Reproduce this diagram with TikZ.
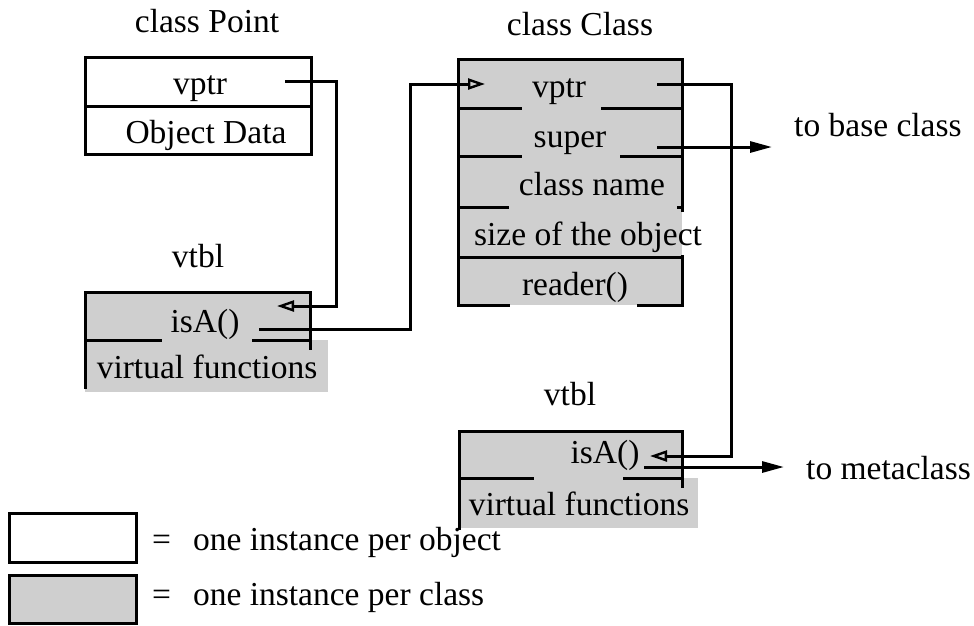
\documentclass[tikz,border=0pt]{standalone}
\usepackage{fontspec}
\setmainfont{Liberation Serif}
\usetikzlibrary{arrows.meta}
\begin{document}
\begin{tikzpicture}[x=1pt,y=-1pt,
  lbl/.style={font=\fontsize{33.5}{40}\selectfont, inner sep=0pt, anchor=base},
  lblw/.style={lbl, anchor=base west},
  frame/.style={line width=3pt, line cap=rect},
  shade/.style={fill=black!19},
  conn/.style={line width=3pt},
  inarrow/.style={conn,-{Triangle[open,length=17pt,width=11pt,line width=2.4pt]}},
  outarrow/.style={conn,-{Triangle[length=22pt,width=11pt]}}]
\useasboundingbox[fill=white] (0,0) rectangle (974,625);

% ---------- shaded areas ----------
\fill[shade] (458,59) rectangle (682,305);
\fill[shade] (85,292) rectangle (310,340);
\fill[shade] (85,340) rectangle (328,392);
\fill[shade] (459,431) rectangle (682,478);
\fill[shade] (459,478) rectangle (698,528);
\fill[shade] (9,575) rectangle (136,624);

% ---------- class Point ----------
\draw[frame] (85,57) rectangle (311,154);
\draw[frame] (85,106) -- (311,106);

% ---------- left vtbl ----------
\draw[frame] (85,387) -- (85,292) -- (310,292) -- (310,348);
\draw[frame] (85,340) -- (160,340);
\draw[frame] (253,340) -- (310,340);

% ---------- class Class ----------
\draw[frame] (508,305) -- (458,305) -- (458,59) -- (682,59) -- (682,210);
\draw[frame] (682,256) -- (682,305) -- (638,305);
\draw[frame] (458,108) -- (520,108);  \draw[frame] (602,108) -- (682,108);
\draw[frame] (458,156) -- (520,156);  \draw[frame] (621,156) -- (682,156);
\draw[frame] (458,207) -- (507,207);  \draw[frame] (678,207) -- (682,207);
\draw[frame] (458,257) -- (682,257);

% ---------- bottom vtbl ----------
\draw[frame] (459,528) -- (459,431) -- (682,431) -- (682,486);
\draw[frame] (459,478) -- (532,478);
\draw[frame] (624,478) -- (682,478);

% ---------- legend ----------
\draw[frame] (9,513) rectangle (136,562);
\draw[frame] (9,575) rectangle (136,623);

% ---------- texts ----------
\node[lbl] (tPoint) at (207,32) {class Point};
\node[lbl] (pVptr) at (200,94) {vptr};
\node[lbl] (pData) at (206,143) {Object Data};
\node[lbl] (tVtblL) at (198,267) {vtbl};
\node[lbl] (lIsA) at (205,332) {isA()};
\node[lbl] (lVirt) at (207,378) {virtual functions};
\node[lbl] (tClass) at (580,35) {class Class};
\node[lbl] (cVptr) at (559,97) {vptr};
\node[lbl] (cSuper) at (570,147) {super};
\node[lbl] (cName) at (592,195) {class name};
\node[lbl] (cSize) at (588,245) {size of the object};
\node[lbl] (cReader) at (575,295) {reader()};
\node[lbl] (tVtblB) at (570,405) {vtbl};
\node[lbl] (bIsA) at (605,463) {isA()};
\node[lbl] (bVirt) at (579,515) {virtual functions};
\node[lblw] (tBase) at (794,136) {to base class};
\node[lblw] (tMeta) at (806,479) {to metaclass};
\node[lblw] (leg1) at (152,550) {=\hspace{22pt}one instance per object};
\node[lblw] (leg2) at (152,605) {=\hspace{22pt}one instance per class};

% ---------- connector end points ----------
\coordinate (pVptrOut) at (285,81);
\coordinate (lIsAIn) at (277,306);
\coordinate (lIsAOut) at (259,329);
\coordinate (cVptrIn) at (485,84);
\coordinate (cVptrOut) at (657,84);
\coordinate (bIsAIn) at (650,456);
\coordinate (cSuperOut) at (657,147);
\coordinate (baseEnd) at (772,147);
\coordinate (bIsAOut) at (644,467);
\coordinate (metaEnd) at (784,467);

% ---------- connectors ----------
\draw[inarrow] (pVptrOut) -- (336,81) -- (336,306) -- (lIsAIn);
\draw[inarrow] (lIsAOut) -- (410,329) -- (410,84) -- (cVptrIn);
\draw[inarrow] (cVptrOut) -- (731,84) -- (731,456) -- (bIsAIn);
\draw[outarrow] (cSuperOut) -- (baseEnd);
\draw[outarrow] (bIsAOut) -- (metaEnd);
\end{tikzpicture}
\end{document}
